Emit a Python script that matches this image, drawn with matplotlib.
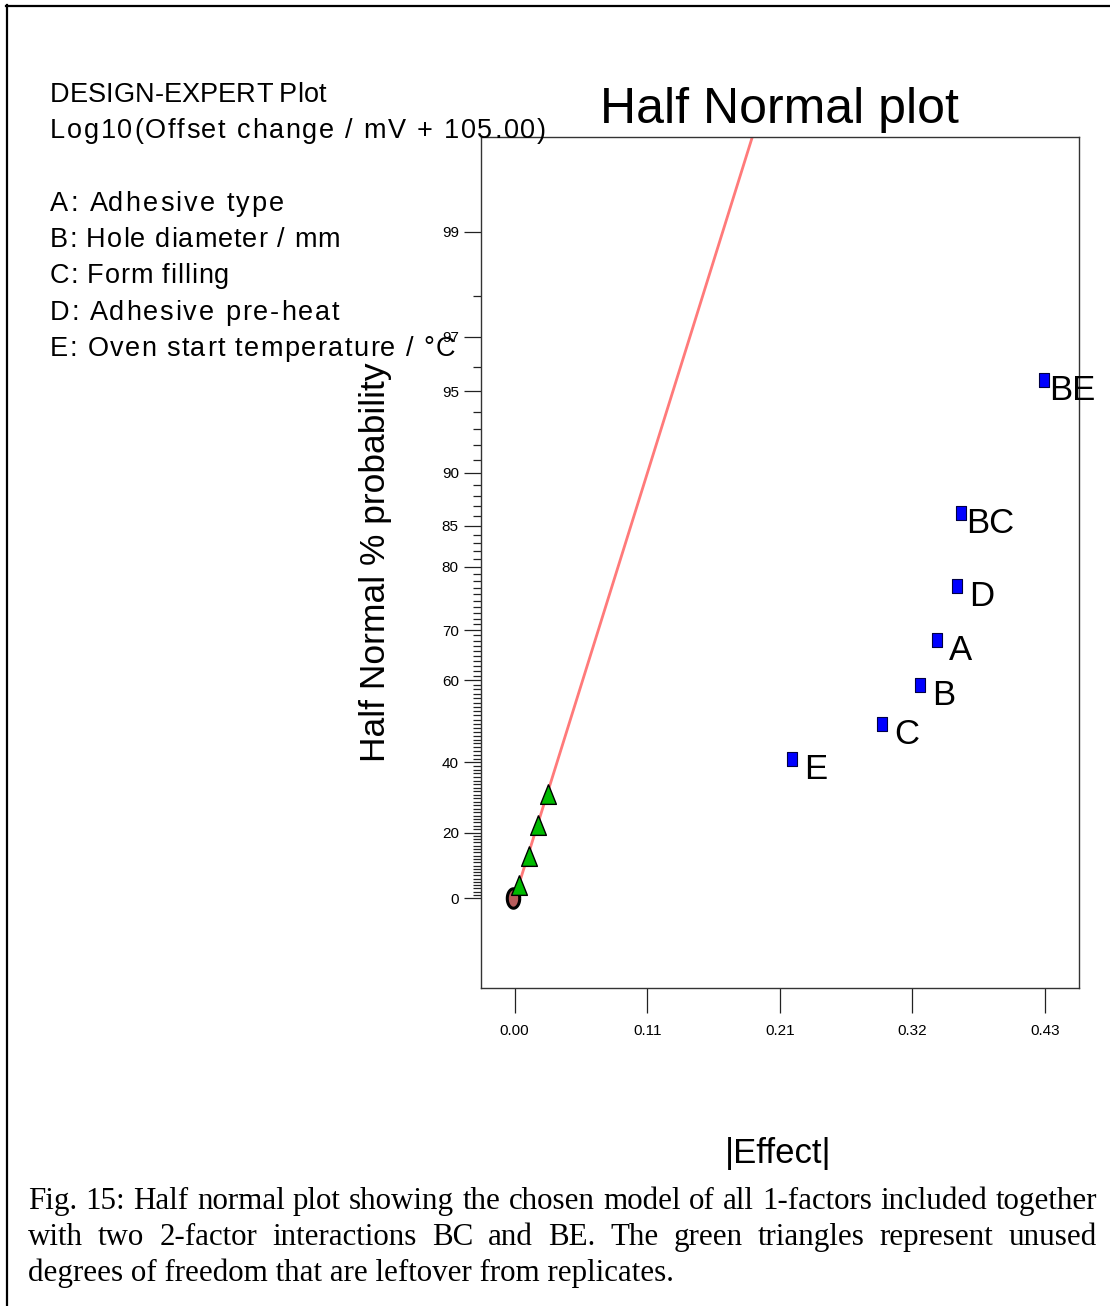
import math
from statistics import NormalDist
import numpy as np
import matplotlib
matplotlib.use("Agg")
import matplotlib.pyplot as plt
from matplotlib.lines import Line2D
from matplotlib.ticker import FixedLocator, FixedFormatter

# ---------------- data ----------------
effect_labels = ["E", "C", "B", "A", "D", "BC", "BE"]
effect_values = [0.2249, 0.2979, 0.3288, 0.3426, 0.3588, 0.3620, 0.4293]
effect_prob = [40.9, 50.0, 59.1, 68.2, 77.3, 86.4, 95.5]

error_values = [0.0039, 0.0114, 0.0187, 0.0268]
error_prob = [4.0, 13.0, 22.1, 31.2]

zero_values = [0.0]
zero_prob = [0.0]

line_values = [0.0, 0.2155]
line_prob = [0.0, 99.9]

x_ticks = [0.0, 0.1075, 0.215, 0.3225, 0.43]
x_tick_labels = ["0.00", "0.11", "0.21", "0.32", "0.43"]
y_major = [0, 20, 40, 60, 70, 80, 85, 90, 95, 97, 99]
y_major_labels = [str(v) for v in y_major]
y_minor = [v for v in range(1, 99) if v not in y_major]

info_lines = ["DESIGN-EXPERT Plot", "Log10(Offset change / mV + 105.00)", "",
              "A: Adhesive type", "B: Hole diameter / mm", "C: Form filling",
              "D: Adhesive pre-heat", "E: Oven start temperature / \u00b0C"]
caption_lines = [
    "Fig. 15: Half normal plot showing the chosen model of all 1-factors included together",
    "with two 2-factor interactions BC and BE. The green triangles represent unused",
    "degrees of freedom that are leftover from replicates.",
]

# ---------------- half-normal probability scale ----------------
_nd = NormalDist()
_inv_cdf = np.vectorize(_nd.inv_cdf, otypes=[float])
_erf = np.vectorize(math.erf, otypes=[float])


def hn_forward(p):
    p = np.asarray(p, dtype=float)
    q = np.clip((1.0 + p / 100.0) / 2.0, 1e-9, 1 - 1e-9)
    return _inv_cdf(q)


def hn_inverse(z):
    z = np.asarray(z, dtype=float)
    return 100.0 * _erf(z / math.sqrt(2.0))


W, H = 1110, 1306
fig = plt.figure(figsize=(W / 100, H / 100), dpi=100)
fig.patch.set_facecolor("white")

SANS = ["Liberation Sans", "DejaVu Sans"]
SERIF = ["Liberation Serif", "DejaVu Serif"]


def fx(px):
    return px / W


def fy(py):
    return 1 - py / H


renderer = fig.canvas.get_renderer()


def text_width(s, size, family):
    t = fig.text(0, 0, s, fontsize=size, family=family)
    w = t.get_window_extent(renderer).width
    t.remove()
    return w


ax = fig.add_axes([fx(481), fy(988), fx(1079) - fx(481), fy(137) - fy(988)])
ax.set_yscale("function", functions=(hn_forward, hn_inverse))
ax.set_xlim(-0.0273, 0.4577)
ax.set_ylim(float(hn_inverse(-0.348)), float(hn_inverse(2.943)))

for sp in ax.spines.values():
    sp.set_linewidth(1.0)
    sp.set_color("#333333")

ax.xaxis.set_major_locator(FixedLocator(x_ticks))
ax.xaxis.set_major_formatter(FixedFormatter(x_tick_labels))
ax.yaxis.set_major_locator(FixedLocator(y_major))
ax.yaxis.set_major_formatter(FixedFormatter(y_major_labels))
ax.yaxis.set_minor_locator(FixedLocator(y_minor))
ax.xaxis.set_minor_locator(FixedLocator([]))
ax.tick_params(axis="x", which="major", direction="out", length=18, width=0.9,
               color="#222222", pad=8, labelsize=11)
ax.tick_params(axis="y", which="major", direction="out", length=12.5, width=0.9,
               color="#222222", pad=3.5, labelsize=11)
ax.tick_params(axis="y", which="minor", direction="out", length=5.8, width=0.9,
               color="#222222")
for lab in ax.get_xticklabels() + ax.get_yticklabels():
    lab.set_family(SANS)

# fitted line
ax.plot(line_values, line_prob, color="#ff7a7a", lw=2.0, zorder=2, solid_capstyle="butt")

# markers
th = np.linspace(0, 2 * np.pi, 60)
ellipse_verts = list(zip(0.32 * np.cos(th), 0.5 * np.sin(th)))
tri_verts = [(0.0, 0.5), (-0.4, -0.5), (0.4, -0.5), (0.0, 0.5)]
rect_verts = [(-0.34, -0.5), (0.34, -0.5), (0.34, 0.5), (-0.34, 0.5), (-0.34, -0.5)]

ax.plot(zero_values, zero_prob, linestyle="none", marker=ellipse_verts, ms=14,
        mfc="#b85c5c", mec="black", mew=2.2, zorder=3, clip_on=False,
        transform=ax.transData + matplotlib.transforms.ScaledTranslation(-2 / 100, 0, fig.dpi_scale_trans))
ax.plot(error_values, error_prob, linestyle="none", marker=tri_verts, ms=14.2,
        mfc="#00bb00", mec="black", mew=1.0, zorder=4, clip_on=False)
ax.plot(effect_values, effect_prob, linestyle="none", marker=rect_verts, ms=10.5,
        mfc="#0000ff", mec="#000044", mew=0.8, zorder=5, clip_on=False)

for lab, xv, pv in zip(effect_labels, effect_values, effect_prob):
    dx = 8.6 if len(lab) == 1 else 4.0
    ax.annotate(lab, (xv, pv), xytext=(dx, -14.4), textcoords="offset points",
                ha="left", va="baseline", fontsize=25, family=SANS, color="black",
                clip_on=False, zorder=6)

# titles and labels
fig.text(fx(779), fy(123), "Half Normal plot", ha="center", va="baseline",
         fontsize=36, family=SANS)
fig.text(fx(376), fy(562), "Half Normal % probability", rotation=90,
         ha="center", va="center", fontsize=25.5, family=SANS)
fig.text(fx(778), fy(1163), "|Effect|", ha="center", va="baseline",
         fontsize=25, family=SANS)


# info block, letter-spaced like the reference
def draw_tracked(x0, yb, s, size, right_px):
    natural = text_width(s, size, SANS)
    n = len(s) - 1
    track = (right_px - x0 - natural) / n if n > 0 else 0.0
    track = max(track, 0.0)
    ref_w = text_width("H", size, SANS)
    for i, ch in enumerate(s):
        if ch == " ":
            continue
        adv = text_width(s[:i] + "H", size, SANS) - ref_w if i > 0 else 0.0
        fig.text(fx(x0 + adv + i * track), fy(yb), ch, ha="left", va="baseline",
                 fontsize=size, family=SANS)


info_base = [102, 138, 174, 211, 247, 283, 320, 356]
info_right = [326, 546, 0, 284, 340, 229, 339, 455]
for txt, yb, rp in zip(info_lines, info_base, info_right):
    if txt:
        draw_tracked(50, yb, txt, 19.5, rp)

# border (left and top)
fig.add_artist(Line2D([fx(7), fx(7)], [fy(5), fy(H + 5)], color="black", lw=1.6,
                      transform=fig.transFigure))
fig.add_artist(Line2D([fx(6), fx(W + 5)], [fy(6), fy(6)], color="black", lw=1.6,
                      transform=fig.transFigure))

# caption (justified)
base_size = 20.0
w_last = text_width(caption_lines[2], base_size, SERIF)
cap_size = base_size * 646.0 / w_last
left_px, right_px = 28.0, 1097.0
cap_base = [1209, 1245, 1281]
for i, (line, yb) in enumerate(zip(caption_lines, cap_base)):
    if i < len(caption_lines) - 1:
        words = line.split(" ")
        widths = [text_width(wd, cap_size, SERIF) for wd in words]
        gap = (right_px - left_px - sum(widths)) / (len(words) - 1)
        xcur = left_px
        for wd, wdt in zip(words, widths):
            fig.text(fx(xcur), fy(yb), wd, ha="left", va="baseline",
                     fontsize=cap_size, family=SERIF)
            xcur += wdt + gap
    else:
        fig.text(fx(left_px), fy(yb), line, ha="left", va="baseline",
                 fontsize=cap_size, family=SERIF)

fig.savefig("out.png", dpi=100, facecolor="white")
